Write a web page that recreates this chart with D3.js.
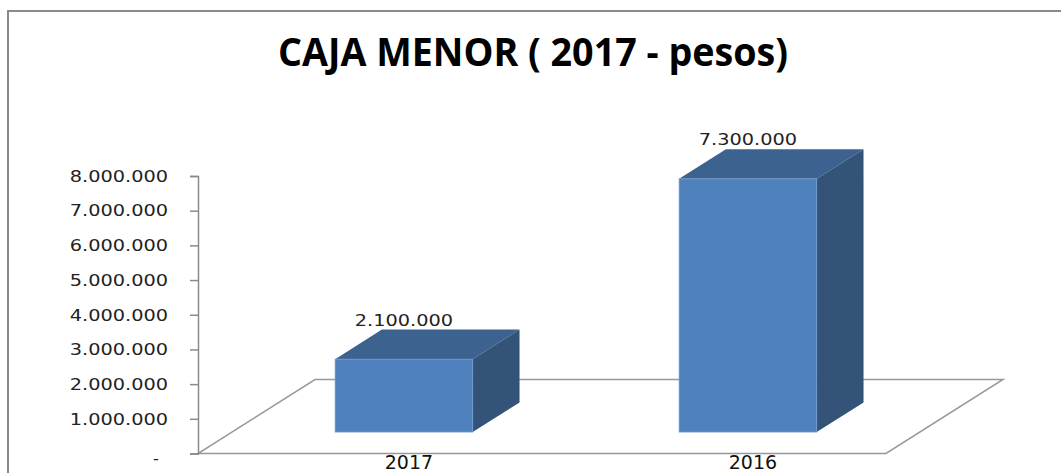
<!DOCTYPE html>
<html>
<head>
<meta charset="utf-8">
<script src="https://cdn.jsdelivr.net/npm/d3@7"></script>
<style>
  html, body { margin: 0; padding: 0; background: #fff; overflow: hidden; }
  svg { display: block; }
</style>
</head>
<body>
<div id="chart"></div>
<script>
const title = 'CAJA MENOR ( 2017 - pesos)';
const categories = ['2017', '2016'];
const values = [2100000, 7300000];
const yTicks = [0, 1000000, 2000000, 3000000, 4000000, 5000000, 6000000, 7000000, 8000000];

const width = 1061, height = 473;
const svg = d3.select('#chart').append('svg')
  .attr('width', width)
  .attr('height', height);

// frame
svg.append('rect')
  .attr('x', 8).attr('y', 11)
  .attr('width', 1200).attr('height', 600)
  .attr('fill', 'none')
  .attr('stroke', '#8a8a8a')
  .attr('stroke-width', 2);

// title
const t = svg.append('text')
  .attr('x', 533).attr('y', 66)
  .attr('text-anchor', 'middle')
  .style('font-family', '"Open Sans", sans-serif')
  .style('font-weight', 'bold')
  .style('font-size', '39px')
  .attr('fill', '#000')
  .text(title);
t.attr('textLength', 510).attr('lengthAdjust', 'spacingAndGlyphs');

// plot geometry
const x0 = 198, x1 = 886, yBase = 453.5, yTop = 176;
const depth = [117, -74];      // floor depth vector
const tFront = 0.29, tBack = 0.69;  // bar placement in depth

const y = d3.scaleLinear().domain([0, 8000000]).range([yBase, yTop]);
const x = d3.scaleBand().domain(categories).range([x0, x1]).padding(0);

const loc = d3.formatLocale({ decimal: ',', thousands: '.', grouping: [3], currency: ['$', ''] });
const fmt = loc.format(',d');
const fmtTick = v => v === 0 ? '-' : fmt(v);

// floor
const floor = [
  [x0, yBase],
  [x1, yBase],
  [x1 + depth[0], yBase + depth[1]],
  [x0 + depth[0], yBase + depth[1]]
];
svg.append('path')
  .attr('d', d3.line()(floor) + 'Z')
  .attr('fill', 'none')
  .attr('stroke', '#999')
  .attr('stroke-width', 1.5);

// y axis
const axis = svg.append('g')
  .attr('transform', `translate(${x0},0)`)
  .call(d3.axisLeft(y).tickValues(yTicks).tickSize(8).tickPadding(22).tickFormat(fmtTick));
axis.select('.domain').attr('stroke', '#8a8a8a').attr('stroke-width', 1.5);
axis.selectAll('.tick line').attr('stroke', '#8a8a8a').attr('stroke-width', 1.5);
axis.selectAll('.tick text')
  .style('font-family', '"DejaVu Sans", sans-serif')
  .style('font-size', '16.5px')
  .attr('fill', '#222');
axis.selectAll('.tick text').each(function(d) {
  const el = d3.select(this);
  if (d === 0) {
    el.attr('x', -39).attr('dy', '0.62em');
  } else {
    const w = this.getComputedTextLength();
    el.attr('textLength', w * 1.17).attr('lengthAdjust', 'spacingAndGlyphs');
  }
});

// bars
const bw = x.bandwidth() * 0.4;
const fx = depth[0] * tFront, fy = depth[1] * tFront;
const bx = depth[0] * (tBack - tFront), by = depth[1] * (tBack - tFront);

const bars = svg.selectAll('.bar')
  .data(categories.map((c, i) => ({ cat: c, value: values[i] })))
  .enter().append('g')
  .attr('class', 'bar');

bars.each(function(d) {
  const g = d3.select(this);
  const left = x(d.cat) + (x.bandwidth() - bw) / 2 + fx;
  const right = left + bw;
  const bottom = y(0) + fy;
  const top = y(d.value) + fy;
  // top face
  g.append('path')
    .attr('d', d3.line()([[left, top], [right, top], [right + bx, top + by], [left + bx, top + by]]) + 'Z')
    .attr('fill', '#3c6290');
  // side face
  g.append('path')
    .attr('d', d3.line()([[right, top], [right + bx, top + by], [right + bx, bottom + by], [right, bottom]]) + 'Z')
    .attr('fill', '#335379');
  // front face
  g.append('rect')
    .attr('x', left).attr('y', top)
    .attr('width', bw).attr('height', bottom - top)
    .attr('fill', '#4f81bd')
    .attr('stroke', '#6f9ad0')
    .attr('stroke-width', 0.8);
  // value label
  g.append('text')
    .attr('x', left + bw / 2)
    .attr('y', top + by - 4)
    .attr('text-anchor', 'middle')
    .style('font-family', '"DejaVu Sans", sans-serif')
    .style('font-size', '16.5px')
    .attr('fill', '#222')
    .text(fmt(d.value))
    .each(function() {
      const w = this.getComputedTextLength();
      d3.select(this).attr('textLength', w * 1.17).attr('lengthAdjust', 'spacingAndGlyphs');
    });
});

// category labels
svg.selectAll('.cat')
  .data(categories)
  .enter().append('text')
  .attr('class', 'cat')
  .attr('x', d => x(d) + x.bandwidth() / 2 + fx + 5)
  .attr('y', 469)
  .attr('text-anchor', 'middle')
  .style('font-family', '"DejaVu Sans", sans-serif')
  .style('font-size', '19px')
  .attr('fill', '#111')
  .text(d => d);
</script>
</body>
</html>
